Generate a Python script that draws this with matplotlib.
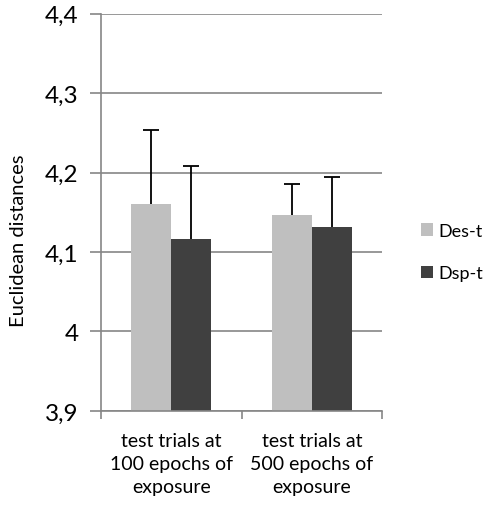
import matplotlib.pyplot as plt
import numpy as np

plt.rcParams['font.family'] = ['Lato', 'DejaVu Sans']

groups = ["test trials at\n100 epochs of\nexposure", "test trials at\n500 epochs of\nexposure"]
series = ["Des-t", "Dsp-t"]
means = {"Des-t": [4.161, 4.146], "Dsp-t": [4.116, 4.132]}
errors = {"Des-t": [0.093, 0.040], "Dsp-t": [0.092, 0.063]}
colors = {"Des-t": "#BFBFBF", "Dsp-t": "#404040"}
yticks = [3.9, 4.0, 4.1, 4.2, 4.3, 4.4]
ytick_labels = ["3,9", "4", "4,1", "4,2", "4,3", "4,4"]

fig = plt.figure(figsize=(4.88, 5.06), dpi=100)
ax = fig.add_axes([0.207, 0.186, 0.576, 0.785])

x = np.arange(len(groups))
w = 0.284
for i, s in enumerate(series):
    pos = x + (i - 0.5) * w
    ax.bar(pos, means[s], w, color=colors[s], label=s, zorder=2)
    eb = ax.errorbar(pos, means[s], yerr=[np.zeros(len(groups)), errors[s]],
                     fmt="none", ecolor="black", elinewidth=1.3, capsize=6,
                     capthick=1.3, zorder=3)
    # only the upper cap
    eb[1][0].set_visible(False)

ax.set_ylim(3.9, 4.4)
ax.set_xlim(-0.5, 1.5)
ax.set_yticks(yticks)
ax.set_yticklabels(ytick_labels, fontsize=17.5)
ax.yaxis.grid(True, color="#868686", linewidth=1.2, zorder=0)
ax.set_axisbelow(True)
ax.tick_params(axis="y", length=8, color="#868686", width=1.2, pad=8)

ax.set_xticks([-0.5, 0.5, 1.5], minor=False)
ax.set_xticklabels([])
ax.set_xticks(x, minor=True)
ax.set_xticklabels(groups, minor=True, fontsize=14, linespacing=1.45)
ax.tick_params(axis="x", which="major", length=6, color="#868686", width=1.2)
ax.tick_params(axis="x", which="minor", length=0, pad=15)

for side in ["top", "right"]:
    ax.spines[side].set_visible(False)
for side in ["left", "bottom"]:
    ax.spines[side].set_color("#868686")
    ax.spines[side].set_linewidth(1.2)

ax.set_ylabel("Euclidean distances", fontsize=14.5)
ax.yaxis.set_label_coords(-0.263, 0.43)

ax.legend(loc="center left", bbox_to_anchor=(1.08, 0.40), frameon=False,
          fontsize=13, handlelength=0.67, handleheight=0.67,
          handletextpad=0.3, labelspacing=1.45)

fig.savefig("out.png", dpi=100)
